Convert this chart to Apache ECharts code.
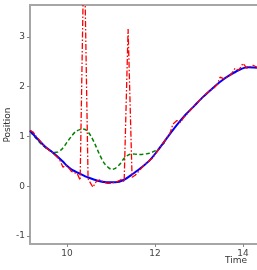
<!DOCTYPE html>
<html><head><meta charset="utf-8">
<script src="https://cdn.jsdelivr.net/npm/echarts@6/dist/echarts.min.js"></script>
<style>html,body{margin:0;padding:0;background:#fff}#c{width:257px;height:270px}</style>
</head><body><div id="c"></div>
<script>
// Smooth estimate (blue solid)
const blueT = [9.16,9.3,9.5,9.7,9.9,10.0,10.1,10.3,10.5,10.7,10.9,11.1,11.3,11.5,11.7,11.9,12.1,12.3,12.5,12.7,12.9,13.1,13.3,13.5,13.7,13.9,14.1,14.32];
const blueV = [1.12,0.98,0.80,0.66,0.50,0.41,0.34,0.25,0.17,0.11,0.08,0.08,0.13,0.25,0.38,0.54,0.76,1.0,1.23,1.44,1.62,1.80,1.96,2.11,2.23,2.33,2.39,2.38];
// Noisy measurement (red dash-dot)
const redT = [9.16,9.23,9.3,9.38,9.45,9.52,9.6,9.68,9.75,9.83,9.91,9.97,10.03,10.1,10.17,10.23,10.3,10.39,10.48,10.59,10.67,10.75,10.84,10.92,11.0,11.08,11.16,11.25,11.3,11.39,11.48,11.55,11.63,11.7,11.78,11.86,11.94,12.02,12.1,12.18,12.26,12.34,12.41,12.5,12.58,12.65,12.73,12.82,12.9,12.98,13.06,13.14,13.22,13.3,13.36,13.42,13.48,13.56,13.64,13.7,13.75,13.82,13.9,13.96,14.0,14.09,14.16,14.23,14.32];
const redV = [1.12,1.09,1.0,0.92,0.84,0.78,0.72,0.67,0.61,0.54,0.38,0.42,0.38,0.30,0.27,0.26,0.12,5.0,0.15,-0.02,0.10,0.13,0.08,0.06,0.06,0.08,0.10,0.14,0.09,3.16,0.18,0.22,0.30,0.37,0.45,0.50,0.56,0.66,0.76,0.86,0.96,1.06,1.25,1.32,1.28,1.38,1.45,1.54,1.62,1.70,1.77,1.84,1.90,1.95,1.99,2.05,2.19,2.16,2.19,2.22,2.27,2.37,2.33,2.40,2.47,2.37,2.40,2.43,2.39];
// Model prediction (green dashed)
const greenT = [9.16,9.3,9.45,9.57,9.7,9.8,9.9,10.0,10.1,10.2,10.3,10.36,10.45,10.55,10.65,10.75,10.85,10.95,11.02,11.1,11.2,11.3,11.4,11.5,11.6,11.7,11.8,11.9,12.0,12.07,12.15,12.22];
const greenV = [1.10,0.96,0.82,0.74,0.68,0.69,0.76,0.88,1.0,1.10,1.14,1.15,1.12,1.0,0.82,0.62,0.46,0.37,0.34,0.36,0.44,0.56,0.63,0.65,0.64,0.64,0.65,0.67,0.71,0.74,0.82,0.88];
const xTicks = [10,12,14];
const yTicks = [-1,0,1,2,3];
const xLabel = 'Time', yLabel = 'Position';

const zip = (a,b)=>a.map((t,i)=>[t,b[i]]);
const chart = echarts.init(document.getElementById('c'), null, {renderer:'canvas'});
const spine = {show:true, onZero:false, lineStyle:{color:'#a6a6a6', width:2}};
const lbl = {color:'#444', fontSize:9, fontFamily:'DejaVu Sans'};
chart.setOption({
  animation:false,
  grid:{left:30, top:5, right:0, bottom:26, containLabel:false, outerBoundsMode:'none'},
  xAxis:[{type:'value', min:9.16, max:14.32, axisLine:spine,
    axisTick:{show:true, length:3, lineStyle:{color:'#888'}, customValues:xTicks},
    axisLabel:{...lbl, margin:5, customValues:xTicks}, splitLine:{show:false}},
    {type:'value', position:'top', min:9.16, max:14.32, axisLine:spine, axisTick:{show:false}, axisLabel:{show:false}, splitLine:{show:false}}],
  yAxis:{type:'value', min:-1.16, max:3.64, axisLine:spine,
    axisTick:{show:true, length:3, lineStyle:{color:'#888'}, customValues:yTicks},
    axisLabel:{...lbl, margin:5, customValues:yTicks}, splitLine:{show:false}},
  graphic:[
    {type:'text', left:225, top:256, style:{text:xLabel, fill:'#333', font:'9px DejaVu Sans'}},
    {type:'text', x:8, y:125, rotation:Math.PI/2, style:{text:yLabel, fill:'#333', font:'9px DejaVu Sans', align:'center', verticalAlign:'middle'}}
  ],
  series:[
    {type:'line', data:zip(greenT,greenV), showSymbol:false, smooth:0.3, clip:true, lineStyle:{color:'#008000', width:1.5, type:[4,2.5]}, z:2},
    {type:'line', data:zip(blueT,blueV), showSymbol:false, smooth:0.3, clip:true, lineStyle:{color:'#0000ff', width:2}, z:3},
    {type:'line', data:zip(redT,redV), showSymbol:false, clip:true, lineStyle:{color:'#ff0000', width:1.3, type:[6,2,1.5,2]}, z:4}
  ]
});
</script></body></html>
